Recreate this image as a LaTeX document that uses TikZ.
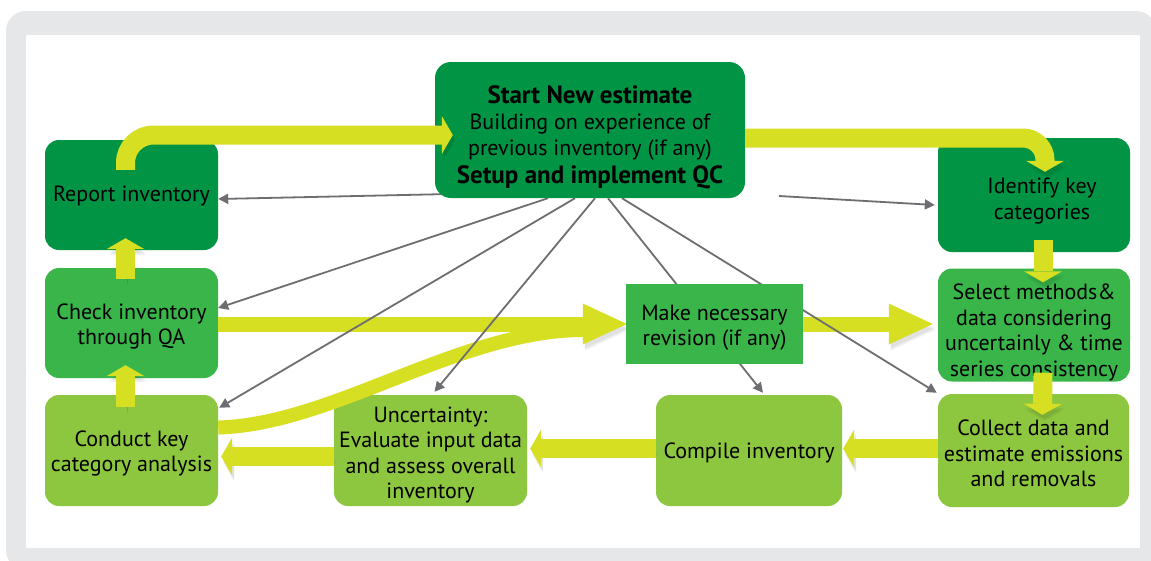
\documentclass[tikz,border=0pt]{standalone}
\usepackage{fontspec}
\setmainfont{PT Sans}
\usetikzlibrary{arrows.meta}
\definecolor{dkgreen}{HTML}{009444}
\definecolor{mdgreen}{HTML}{39B54A}
\definecolor{ltgreen}{HTML}{8DC63F}
\definecolor{lime}{HTML}{D7DF23}
\definecolor{arrgray}{HTML}{6D6E71}
\definecolor{framegray}{HTML}{E6E7E8}
\newcommand{\headfont}{\bfseries\fontsize{25}{28}\selectfont}
\newcommand{\padtop}[1]{\rule{0pt}{#1}}
\pgfdeclarelayer{lower}
\pgfdeclarelayer{upper}
\pgfsetlayers{lower,main,upper}

\begin{document}
\begin{tikzpicture}[x=1pt,y=-1pt,
		box/.style={rounded corners=14pt,align=center,inner sep=0pt,text=black,font=\fontsize{22}{25.5}\selectfont},
		dark/.style={box,fill=dkgreen},
		mid/.style={box,fill=mdgreen},
		light/.style={box,fill=ltgreen},
		yshade/.style={preaction={draw=black,opacity=.06,transform canvas={shift={(2,6)}}},
			preaction={draw=black,opacity=.06,transform canvas={shift={(2,4)}}}},
		ybar/.style={draw=lime,line width=19pt,yshade,-{Triangle[length=11pt,width=38pt,line width=0pt]}},
		ybig/.style={draw=lime,line width=15pt,yshade,-{Triangle[length=44pt,width=41pt,line width=0pt]}},
		ycurve/.style={draw=lime,line width=14pt,yshade},
		garr/.style={draw=arrgray,line width=1.8pt,-{Triangle[length=10pt,width=10pt]}}]
		\useasboundingbox (0,0) rectangle (1151,560);

		\begin{pgfonlayer}{lower}
		\fill[framegray,rounded corners=20pt] (6,11) rectangle (1156,570);
		\fill[white] (26,35) rectangle (1140,548);
		\node[dark,minimum width=173pt,minimum height=110pt] (report) at (131.5,195) {\padtop{18pt}Report inventory};
		\node[dark,minimum width=192pt,minimum height=114pt] (ident) at (1034,195) {\padtop{28pt}\hspace*{16pt}Identify key\\\hspace*{16pt}categories};
		\node[mid,minimum width=173pt,minimum height=110pt] (chk) at (131.5,323) {\padtop{23pt}Check inventory\\through QA};
		\node[mid,minimum width=192pt,minimum height=113pt] (sel) at (1034,325) {\padtop{30pt}Select methods\&\\data considering\\uncertainly \& time\\series consistency};
		\node[light,minimum width=173pt,minimum height=111pt] (cka) at (131.5,450.5) {\padtop{21.5pt}Conduct key\\category analysis};
		\node[light,minimum width=193pt,minimum height=111pt] (unc) at (430.5,450.5) {\padtop{24pt}Uncertainty:\\Evaluate input data\\and assess overall\\inventory};
		\node[light,minimum width=186pt,minimum height=111pt] (comp) at (749,450.5) {\padtop{20pt}Compile inventory};
		\node[light,minimum width=191pt,minimum height=113pt] (coll) at (1033.5,450.5) {\padtop{21.5pt}Collect data and\\estimate emissions\\and removals};
		\end{pgfonlayer}

		\begin{pgfonlayer}{upper}
		\node[dark,rounded corners=16pt,minimum width=310pt,minimum height=136pt] (start) at (590,130) {{\padtop{32pt}\headfont Start New estimate}\\[1pt]Building on experience of\\previous inventory (if any)\\[3pt]{\headfont Setup and implement QC}};
		\node[mid,sharp corners,minimum width=177pt,minimum height=80pt] (rev) at (714.5,324) {\padtop{23pt}Make necessary\\revision (if any)};
		\draw[ybar,rounded corners=28pt] ([shift={(-6,30)}]report.north) |- ([shift={(18,5)}]start.west);
		\draw[ybar,rounded corners=22pt] ([shift={(0,8)}]start.east) -| ([shift={(11,34)}]ident.north);
		\end{pgfonlayer}

		\begin{pgfonlayer}{lower}
		\draw[ybar] ([shift={(9,-12)}]ident.south) -- ([shift={(9,14)}]sel.north);
		\draw[ybar] ([shift={(9,-9)}]sel.south) -- ([shift={(9,21)}]coll.north);
		\draw[ybar] ([shift={(0,-2)}]coll.west) -- ([shift={(1,-2)}]comp.east);
		\draw[ybar] ([shift={(0,-2)}]comp.west) -- ([shift={(3,-2)}]unc.east);
		\draw[ybar] ([shift={(0,6)}]unc.west) -- ([shift={(3,6)}]cka.east);
		\draw[ybar] ([shift={(-6,12)}]cka.north) -- ([shift={(-6,-13)}]chk.south);
		\draw[ybar] ([shift={(-6,11)}]chk.north) -- ([shift={(-6,-12)}]report.south);
		\draw[ycurve] ([shift={(0,-23)}]cka.east) .. controls +(115,-3) and +(-125,0) .. ([shift={(-42,6)}]rev.west);
		\draw[ybig] (chk.east |- rev.west) -- ([shift={(1,0)}]rev.west);
		\draw[ybig] (rev.east) -- ([shift={(-5,0)}]rev.east -| sel.west);
		\end{pgfonlayer}

		\coordinate (qc) at (779,196);
		\draw[garr] (qc) -- ([shift={(-3,10)}]ident.west);
		\draw[garr] ([shift={(6,-4)}]start.south west) -- ([shift={(0,4)}]report.east);
		\draw[garr] ([shift={(-42,0)}]start.south) -- ([shift={(0,-15)}]chk.east);
		\draw[garr] ([shift={(-15,0)}]start.south) -- ([shift={(1,13)}]cka.north east);
		\draw[garr] ([shift={(5,0)}]start.south) -- ([shift={(4,-3)}]unc.north);
		\draw[garr] ([shift={(18,0)}]start.south) -- ([shift={(14,-2)}]comp.north);
		\draw[garr] ([shift={(32,0)}]start.south) -- ([shift={(-1,-1)}]coll.north west);
	\end{tikzpicture}
\end{document}
